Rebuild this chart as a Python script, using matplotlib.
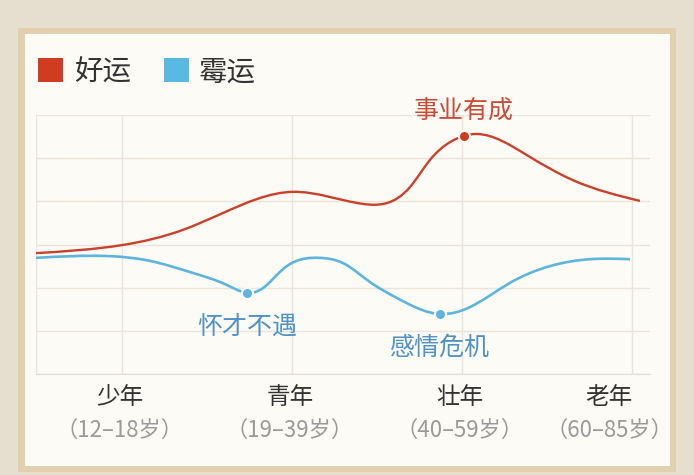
import numpy as np
import matplotlib.pyplot as plt
from matplotlib.path import Path
from matplotlib.patches import PathPatch, Rectangle
import matplotlib.transforms as mtransforms

plt.rcParams["font.family"] = ["Noto Sans CJK SC", "DejaVu Sans"]

# stage positions on the x axis (0..3) and labels
stages = ["少年", "青年", "壮年", "老年"]
ages = ["（12–18岁）", "（19–39岁）", "（40–59岁）", "（60–85岁）"]

# good luck curve (x in stage units, y in grid units 0..6)
good_x = [-0.506, 0.006, 0.359, 0.594, 1.006, 1.418, 1.694, 1.812, 1.929, 2.088,
          2.382, 2.653, 3.047]
good_y = [2.80, 2.99, 3.34, 3.73, 4.22, 3.94, 4.33, 4.96, 5.37, 5.56,
          5.07, 4.49, 4.01]

# bad luck curve
bad_x = [-0.506, -0.071, 0.165, 0.418, 0.618, 0.735, 0.829, 0.947, 1.165, 1.300,
         1.459, 1.618, 1.735, 1.871, 2.047, 2.282, 2.518, 2.753, 2.988]
bad_y = [2.69, 2.73, 2.62, 2.34, 2.06, 1.88, 1.99, 2.43, 2.69, 2.57,
         2.13, 1.76, 1.53, 1.39, 1.55, 2.11, 2.50, 2.66, 2.66]

# highlighted events
good_events = [("事业有成", 2.012, 5.51)]
bad_events = [("怀才不遇", 0.735, 1.88), ("感情危机", 1.871, 1.39)]

RED = "#c9402b"
RED_DOT = "#d23a20"
BLUE = "#5eb5dc"
BLUE_TXT = "#4f92c4"
GRID = "#e9e5dc"
CARD = "#fdfbf6"


def smooth_path(xs, ys):
    # natural cubic spline through the read points, drawn as bezier segments
    x = np.asarray(xs, float)
    y = np.asarray(ys, float)
    n = len(x)
    h = np.diff(x)
    d = np.diff(y) / h
    A = np.zeros((n, n))
    b = np.zeros(n)
    A[0, 0] = A[-1, -1] = 1.0
    for i in range(1, n - 1):
        A[i, i - 1] = h[i - 1]
        A[i, i] = 2 * (h[i - 1] + h[i])
        A[i, i + 1] = h[i]
        b[i] = 6 * (d[i] - d[i - 1])
    M = np.linalg.solve(A, b)
    verts = [(x[0], y[0])]
    codes = [Path.MOVETO]
    for i in range(n - 1):
        m0 = d[i] - h[i] * (2 * M[i] + M[i + 1]) / 6
        m1 = d[i] + h[i] * (M[i] + 2 * M[i + 1]) / 6
        dx = h[i] / 3.0
        verts += [(x[i] + dx, y[i] + m0 * dx),
                  (x[i + 1] - dx, y[i + 1] - m1 * dx),
                  (x[i + 1], y[i + 1])]
        codes += [Path.CURVE4] * 3
    return Path(verts, codes)


fig = plt.figure(figsize=(6.94, 4.75), dpi=100)
fig.patch.set_facecolor("#e6dfd0")
W, H = 694, 475
fig.add_artist(Rectangle((18 / W, 3 / H), 658 / W, 444 / H, transform=fig.transFigure,
                         facecolor="#e2cfae", edgecolor="none", zorder=0))
fig.add_artist(Rectangle((25 / W, 9 / H), 645 / W, 432 / H, transform=fig.transFigure,
                         facecolor=CARD, edgecolor="none", zorder=0))

ax = fig.add_axes([36 / W, 101 / H, 614 / W, 259 / H])
ax.set_facecolor(CARD)
ax.set_xlim(-0.506, 3.106)
ax.set_ylim(0, 6)
for s in ax.spines.values():
    s.set_visible(False)
ax.spines["bottom"].set_visible(True)
ax.spines["bottom"].set_color("#e2ded6")
ax.set_yticks(range(7))
ax.set_xticks(range(4))
ax.grid(True, color=GRID, linewidth=1)
ax.tick_params(length=0, labelleft=False, labelbottom=False)
ax.axvline(-0.506, color=GRID, linewidth=1)

ax.add_patch(PathPatch(smooth_path(good_x, good_y), facecolor="none", edgecolor=RED,
                       linewidth=1.7, zorder=3))
ax.add_patch(PathPatch(smooth_path(bad_x, bad_y), facecolor="none", edgecolor=BLUE,
                       linewidth=1.9, zorder=3))

for name, x, y in good_events:
    ax.plot(x, y, "o", ms=8, color=RED_DOT, mec=CARD, mew=1.5, zorder=4)
    ax.annotate(name, (x, y), xytext=(0, 18.5), textcoords="offset points",
                ha="center", va="center", fontsize=18, color="#cc4a35")
for name, x, y in bad_events:
    ax.plot(x, y, "o", ms=8, color=BLUE, mec=CARD, mew=1.5, zorder=4)
    ax.annotate(name, (x, y), xytext=(0, -24.5), textcoords="offset points",
                ha="center", va="center", fontsize=18, color=BLUE_TXT)

# stage labels under the axis
blend = mtransforms.blended_transform_factory(ax.transData, ax.transAxes)
for i, (st, ag) in enumerate(zip(stages, ages)):
    shift = -16.5 / 72 if i == len(stages) - 1 else -1.5 / 72
    tr = blend + mtransforms.ScaledTranslation(shift, 0, fig.dpi_scale_trans)
    ax.text(i, -0.092, st, transform=tr, ha="center", va="center",
            fontsize=17, color="#333333")
    ax.text(i, -0.217, ag, transform=tr, ha="center", va="center",
            fontsize=16, color="#9a9a9a")

# legend
fig.add_artist(Rectangle((38 / W, 1 - 82 / H), 25 / W, 24 / H, transform=fig.transFigure,
                         facecolor="#d13b20", edgecolor="none"))
fig.text(74 / W, 1 - 73 / H, "好运", fontsize=20.5, color="#333333", va="center")
fig.add_artist(Rectangle((164 / W, 1 - 82 / H), 25 / W, 24 / H, transform=fig.transFigure,
                         facecolor="#5ab9e3", edgecolor="none"))
fig.text(199 / W, 1 - 73 / H, "霉运", fontsize=20.5, color="#333333", va="center")

fig.savefig("out.png", dpi=100, facecolor=fig.get_facecolor())
